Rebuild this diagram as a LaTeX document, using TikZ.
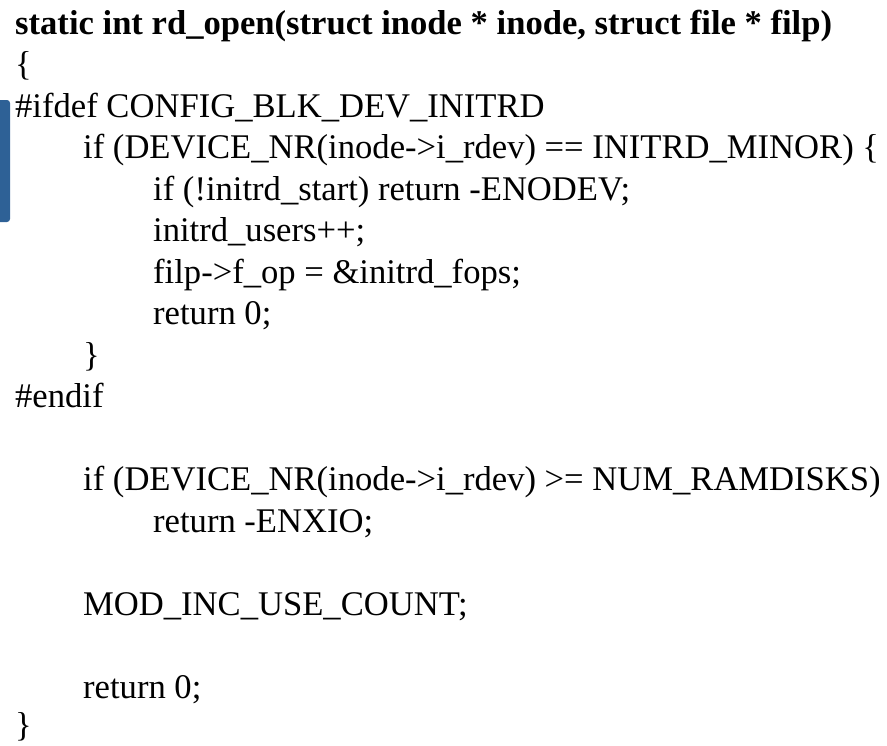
\documentclass[tikz,border=0pt]{standalone}
\usepackage{fontspec}
\setmainfont{Liberation Serif}
\usetikzlibrary{positioning}
\definecolor{barblue}{RGB}{46,97,150}

\begin{document}
\begin{tikzpicture}[x=1pt,y=-1pt,
		code/.style={anchor=base west,inner sep=0pt,font=\fontsize{34.6}{41}\selectfont},
		head/.style={code,font=\fontsize{34.6}{41}\selectfont\bfseries}]
			\useasboundingbox (0,0) rectangle (887,745);
			\fill[barblue,rounded corners=3pt] (-6,100) rectangle (10,222);
			\node[head] (sig)    at (15,34)    {static int rd\_open(struct inode * inode, struct file * filp)};
			\node[code] (open)   at (15,75.5)  {\{};
			\node[code] (ifdef)  at (15,117)   {\#ifdef CONFIG\_BLK\_DEV\_INITRD};
			\node[code] (minor)  at (83,158.5) {if (DEVICE\_NR(inode->i\_rdev) == INITRD\_MINOR) \{};
			\node[code] (start)  at (153,200)  {if (!initrd\_start) return -ENODEV;};
			\node[code] (users)  at (153,241.5){initrd\_users++;};
			\node[code] (fops)   at (153,283)  {filp->f\_op = \&initrd\_fops;};
			\node[code] (ret1)   at (153,324.5){return 0;};
			\node[code] (close1) at (83,366)   {\}};
			\node[code] (endif)  at (15,407.5) {\#endif};
			\node[code] (ramd)   at (83,490.5) {if (DEVICE\_NR(inode->i\_rdev) >= NUM\_RAMDISKS)};
			\node[code] (nxio)   at (153,532)  {return -ENXIO;};
			\node[code] (count)  at (83,615)   {MOD\_INC\_USE\_COUNT;};
			\node[code] (ret2)   at (83,698)   {return 0;};
			\node[code] (close2) at (15,736)   {\}};
		\end{tikzpicture}
\end{document}
